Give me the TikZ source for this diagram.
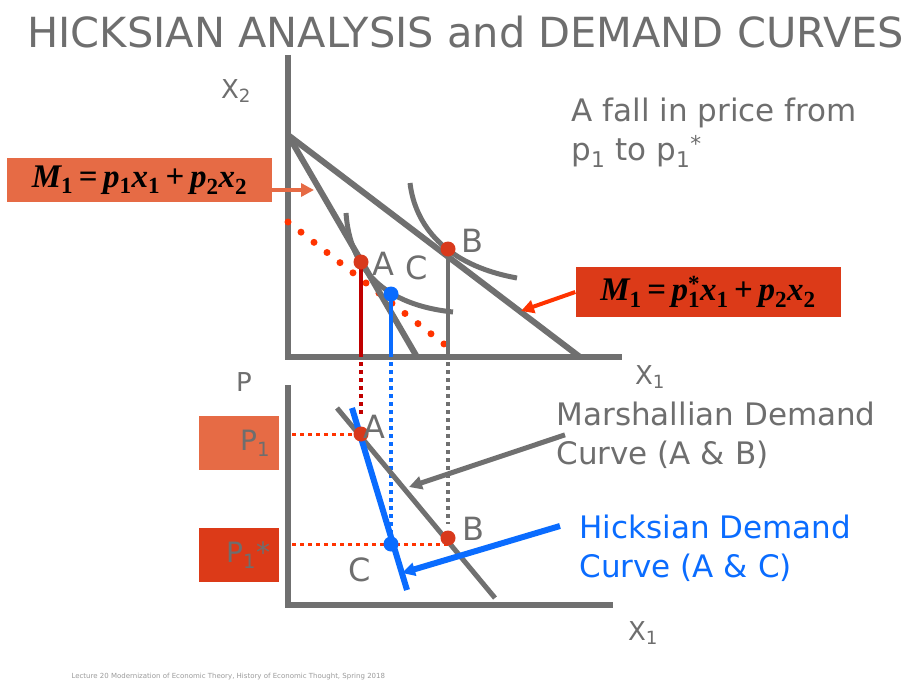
\documentclass[tikz,border=0pt]{standalone}
\usepackage{fontspec}
\setmainfont{DejaVu Sans}
\newfontfamily\eqfont{Liberation Serif}
\usetikzlibrary{arrows.meta}

\definecolor{axisgray}{HTML}{707070}
\definecolor{textgray}{HTML}{6E6E6E}
\definecolor{boxorange}{HTML}{E66B45}
\definecolor{boxred}{HTML}{DC3A18}
\definecolor{dotred}{HTML}{FF3300}
\definecolor{darkred}{HTML}{C00000}
\definecolor{hickblue}{HTML}{0A6CFF}
\definecolor{ptred}{HTML}{D8391C}

\newcommand{\setfs}[1]{\fontsize{#1}{#1}\selectfont}
\newcommand{\eqsub}[1]{\textsubscript{\upshape\bfseries #1}}

\begin{document}
\begin{tikzpicture}[x=1pt,y=-1pt,
  axis/.style={axisgray, line width=6pt, line join=miter},
  budget/.style={axisgray, line width=6pt},
  indiff/.style={axisgray, line width=5pt},
  drop/.style={line width=4pt},
  dropdots/.style={line width=4pt, dash pattern=on 4pt off 4pt},
  pricedots/.style={dotred, line width=3pt, dash pattern=on 4pt off 4pt},
  dot/.style={circle, inner sep=0pt, minimum size=15pt},
  ptlabel/.style={textgray, font=\setfs{32}},
  axlabel/.style={textgray, font=\setfs{26}},
  eqbox/.style={minimum width=265pt, inner sep=0pt, text=black, font=\setfs{33}\eqfont\bfseries\itshape},
  pbox/.style={minimum height=54pt, text width=62pt, inner xsep=9pt, align=right, textgray, font=\setfs{28}},
  note/.style={textgray, font=\fontsize{31}{39}\selectfont, align=left, anchor=north west},
  bigtip/.style={-{Triangle[length=13pt,width=13pt]}}
]
\useasboundingbox (0,0) rectangle (905,682);

%% title and footer
\node[textgray, anchor=west, font=\setfs{41.5}] (title) at (24,32) {HICKSIAN ANALYSIS and DEMAND CURVES};
\node[textgray!70, anchor=west, font=\setfs{7}] (footer) at (68,677) {Lecture 20 Modernization of Economic Theory, History of Economic Thought, Spring 2018};

%% ---------- upper panel: budget lines and indifference curves ----------
\coordinate (Y1top) at (288,55);
\coordinate (O1) at (288,357);
\coordinate (X1end) at (622,357);
\coordinate (I) at (288,135);
\coordinate (E1) at (417,357);
\coordinate (E2) at (580,357);
\coordinate (D1) at (288,222);
\coordinate (D2) at (453,351);
\coordinate (A) at (361,262);
\coordinate (C) at (391,294);
\coordinate (B) at (448,249);

\draw[axis] (Y1top) -- (O1) -- (X1end);
\node[axlabel] (x2lab) at (236,91) {X\textsubscript{2}};
\node[axlabel] (x1lab) at (650,377) {X\textsubscript{1}};

% compensated budget line
\draw[dotred, line width=7pt, line cap=round, dash pattern=on 0pt off 16.5pt] (D1) -- (D2);
\draw[budget] (I) -- (E1);
\draw[budget] (I) -- (E2);
\draw[indiff] (346,213) .. controls (350,270) and (385,305) .. (453,312);
\draw[indiff] (410,183) .. controls (415,225) and (445,265) .. (517,278);

% drop lines to the axis
\draw[drop, darkred] (A) -- (A |- O1);
\draw[drop, hickblue] (C) -- (C |- O1);
\draw[drop, axisgray, line width=3.5pt] (B) -- (B |- O1);

\node[dot, fill=ptred] (dA) at (A) {};
\node[dot, fill=hickblue] (dC) at (C) {};
\node[dot, fill=ptred] (dB) at (B) {};
\node[ptlabel] (lA) at (383,264) {A};
\node[ptlabel] (lC) at (417,268) {C};
\node[ptlabel] (lB) at (472,241) {B};

%% budget equations
\node[eqbox, fill=boxorange, minimum height=44pt] (eq1) at (139.5,180)
  {M\eqsub{1}\,{\upshape=}\,p\eqsub{1}x\eqsub{1}\,{\upshape+}\,p\eqsub{2}x\eqsub{2}};
\node[eqbox, fill=boxred, minimum height=50pt] (eq2) at (708,292)
  {M\eqsub{1}\,{\upshape=}\,p\rlap{\textsuperscript{\upshape *}}\eqsub{1}x\eqsub{1}\,{\upshape+}\,p\eqsub{2}x\eqsub{2}};
\coordinate (hit1) at (314,190);
\coordinate (hit2) at (521,311);
\draw[boxorange, line width=4pt, bigtip] (eq1.east |- hit1) -- (hit1);
\draw[dotred, line width=4pt, bigtip] (eq2.west) -- (hit2);

\node[note] (fall) at (568,94) {A fall in price from\\p\textsubscript{1} to p\textsubscript{1}\textsuperscript{*}};

%% ---------- lower panel: demand curves ----------
\coordinate (Y2top) at (288,385);
\coordinate (O2) at (288,605);
\coordinate (X2end) at (613,605);
\coordinate (a) at (361,434);
\coordinate (c) at (391,544);
\coordinate (b) at (448,538);

\draw[axis] (Y2top) -- (O2) -- (X2end);
\node[axlabel] (plab) at (244,382) {P};
\node[axlabel] (x1lab2) at (643,633) {X\textsubscript{1}};

% dotted links from the upper panel
\draw[dropdots, darkred] ([yshift=-5pt]A |- O1) -- ([yshift=18pt]a);
\draw[dropdots, hickblue] ([yshift=-5pt]C |- O1) -- (c);
\draw[dropdots, axisgray, line width=3.5pt] ([yshift=-5pt]B |- O1) -- ([yshift=14pt]b);

% price levels
\node[pbox, fill=boxorange] (p1box) at (239,443) {P\textsubscript{1}};
\node[pbox, fill=boxred] (p1sbox) at (239,555) {P\textsubscript{1}*};
\draw[pricedots] ([xshift=4pt]O2 |- a) -- (a);
\draw[pricedots] ([xshift=4pt]O2 |- c) -- (b |- c);

% demand curves
\draw[axisgray, line width=5pt] (337,408) coordinate (ms) -- (495,598) coordinate (me);
\draw[hickblue, line width=6pt] (352,408) coordinate (hs) -- (407,590) coordinate (he);

\node[dot, fill=ptred] (da) at (a) {};
\node[dot, fill=hickblue] (dc) at (c) {};
\node[dot, fill=ptred] (db) at (b) {};
\node[ptlabel] (la) at (374,427) {A};
\node[ptlabel] (lb) at (473,529) {B};
\node[ptlabel] (lc) at (360,570) {C};

%% curve labels with pointers
\node[note] (marsh) at (553,398) {Marshallian Demand\\Curve (A \& B)};
\node[note, text=hickblue] (hicks) at (576,511) {Hicksian Demand\\Curve (A \& C)};
\coordinate (mhead) at (409,487);
\coordinate (htail) at (560,526);
\coordinate (hhead) at (402,573);
\draw[axisgray, line width=5pt, bigtip] ([xshift=12pt]marsh.west) -- (mhead);
\draw[hickblue, line width=6pt, bigtip] (htail) -- (hhead);
\end{tikzpicture}
\end{document}
